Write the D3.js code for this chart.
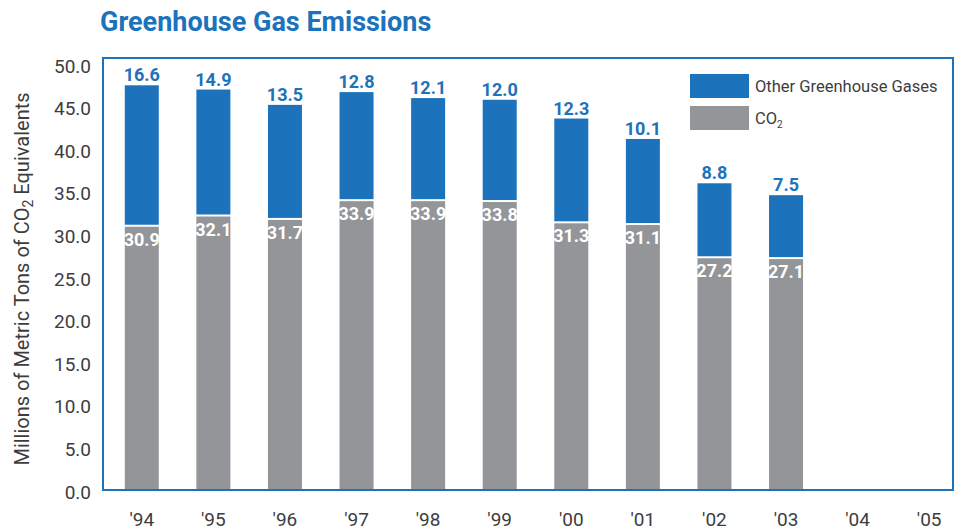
<!DOCTYPE html>
<html>
<head>
<meta charset="utf-8">
<script src="https://cdn.jsdelivr.net/npm/d3@7"></script>
<style>
  body { margin: 0; background: #fff; }
  svg text { font-family: "Liberation Sans Narrow", "Roboto", sans-serif; }
</style>
</head>
<body>
<svg width="956" height="529"></svg>
<script>
const years = ["'94", "'95", "'96", "'97", "'98", "'99", "'00", "'01", "'02", "'03", "'04", "'05"];
const co2 = [30.9, 32.1, 31.7, 33.9, 33.9, 33.8, 31.3, 31.1, 27.2, 27.1];
const otherGases = [16.6, 14.9, 13.5, 12.8, 12.1, 12.0, 12.3, 10.1, 8.8, 7.5];
const yTicks = [0, 5, 10, 15, 20, 25, 30, 35, 40, 45, 50];

const blue = '#1c72bb', grey = '#939598', text = '#3d3d3d';

const $svg = d3.select('svg');

const x = d3.scaleBand()
  .domain(years)
  .range([106, 965])
  .paddingInner(0.525)
  .paddingOuter(0.2625);

const y = d3.scaleLinear().domain([0, 50]).range([490, 64]);

// title
$svg.append('text')
  .attr('x', 100).attr('y', 31)
  .attr('fill', blue)
  .attr('font-size', 27)
  .attr('font-weight', 'bold')
  .text('Greenhouse Gas Emissions');

// y axis labels
const yAxis = d3.axisLeft(y).tickValues(yTicks).tickFormat(d3.format('.1f')).tickSize(0).tickPadding(0);
const $ya = $svg.append('g').attr('transform', 'translate(91,2)').call(yAxis);
$ya.select('.domain').remove();
$ya.selectAll('text').attr('font-size', 19).attr('fill', text)
  .style('font-family', '"Liberation Sans Narrow", Roboto, sans-serif');

// y title
const $yt = $svg.append('text')
  .attr('transform', 'translate(29,279) rotate(-90)')
  .attr('text-anchor', 'middle')
  .attr('font-size', 20)
  .attr('fill', text);
$yt.append('tspan').text('Millions of Metric Tons of CO');
$yt.append('tspan').attr('font-size', 14).attr('dy', 4).text('2');
$yt.append('tspan').attr('dy', -4).text(' Equivalents');

// x axis labels
const xAxis = d3.axisBottom(x).tickSize(0).tickPadding(0);
const $xa = $svg.append('g').attr('transform', 'translate(0,512)').call(xAxis);
$xa.select('.domain').remove();
$xa.selectAll('text').attr('font-size', 19).attr('fill', text)
  .style('font-family', '"Liberation Sans Narrow", Roboto, sans-serif');

// bars
const rows = co2.map((c, i) => ({ year: years[i], co2: c, other: otherGases[i] }));

$svg.selectAll('rect.co2')
  .data(rows)
  .enter()
  .append('rect')
    .attr('class', 'co2')
    .attr('x', d => x(d.year))
    .attr('width', x.bandwidth())
    .attr('y', d => y(d.co2))
    .attr('height', d => y(0) - y(d.co2))
    .attr('fill', grey);

$svg.selectAll('rect.other')
  .data(rows)
  .enter()
  .append('rect')
    .attr('class', 'other')
    .attr('x', d => x(d.year))
    .attr('width', x.bandwidth())
    .attr('y', d => y(d.co2 + d.other))
    .attr('height', d => y(d.co2) - y(d.co2 + d.other) - 2)
    .attr('fill', blue);

// value labels
$svg.selectAll('text.otherLbl')
  .data(rows)
  .enter()
  .append('text')
    .attr('class', 'otherLbl')
    .attr('x', d => x(d.year) + x.bandwidth() / 2)
    .attr('y', d => y(d.co2 + d.other) - 4)
    .attr('text-anchor', 'middle')
    .attr('font-size', 18)
    .attr('font-weight', 'bold')
    .attr('fill', blue)
    .text(d => d.other.toFixed(1));

$svg.selectAll('text.co2Lbl')
  .data(rows)
  .enter()
  .append('text')
    .attr('class', 'co2Lbl')
    .attr('x', d => x(d.year) + x.bandwidth() / 2)
    .attr('y', d => y(d.co2) + 19)
    .attr('text-anchor', 'middle')
    .attr('font-size', 18)
    .attr('font-weight', 'bold')
    .attr('fill', '#fff')
    .text(d => d.co2.toFixed(1));

// frame
$svg.append('rect')
  .attr('x', 103).attr('y', 58)
  .attr('width', 850).attr('height', 432)
  .attr('fill', 'none')
  .attr('stroke', blue)
  .attr('stroke-width', 2);

// legend
const legend = [
  { label: 'Other Greenhouse Gases', color: blue, sub: false },
  { label: 'CO', color: grey, sub: true }
];
const $lg = $svg.selectAll('g.lg')
  .data(legend)
  .enter()
  .append('g')
    .attr('class', 'lg')
    .attr('transform', (d, i) => 'translate(690,' + (74 + i * 32) + ')');
$lg.append('rect').attr('width', 59).attr('height', 24).attr('fill', d => d.color);
const $lt = $lg.append('text')
  .attr('x', 65).attr('y', 18)
  .attr('font-size', 16.5)
  .attr('fill', text)
  .text(d => d.label);
$lt.filter(d => d.sub).append('tspan').attr('font-size', 10).attr('dy', 4).text('2');
</script>
</body>
</html>
